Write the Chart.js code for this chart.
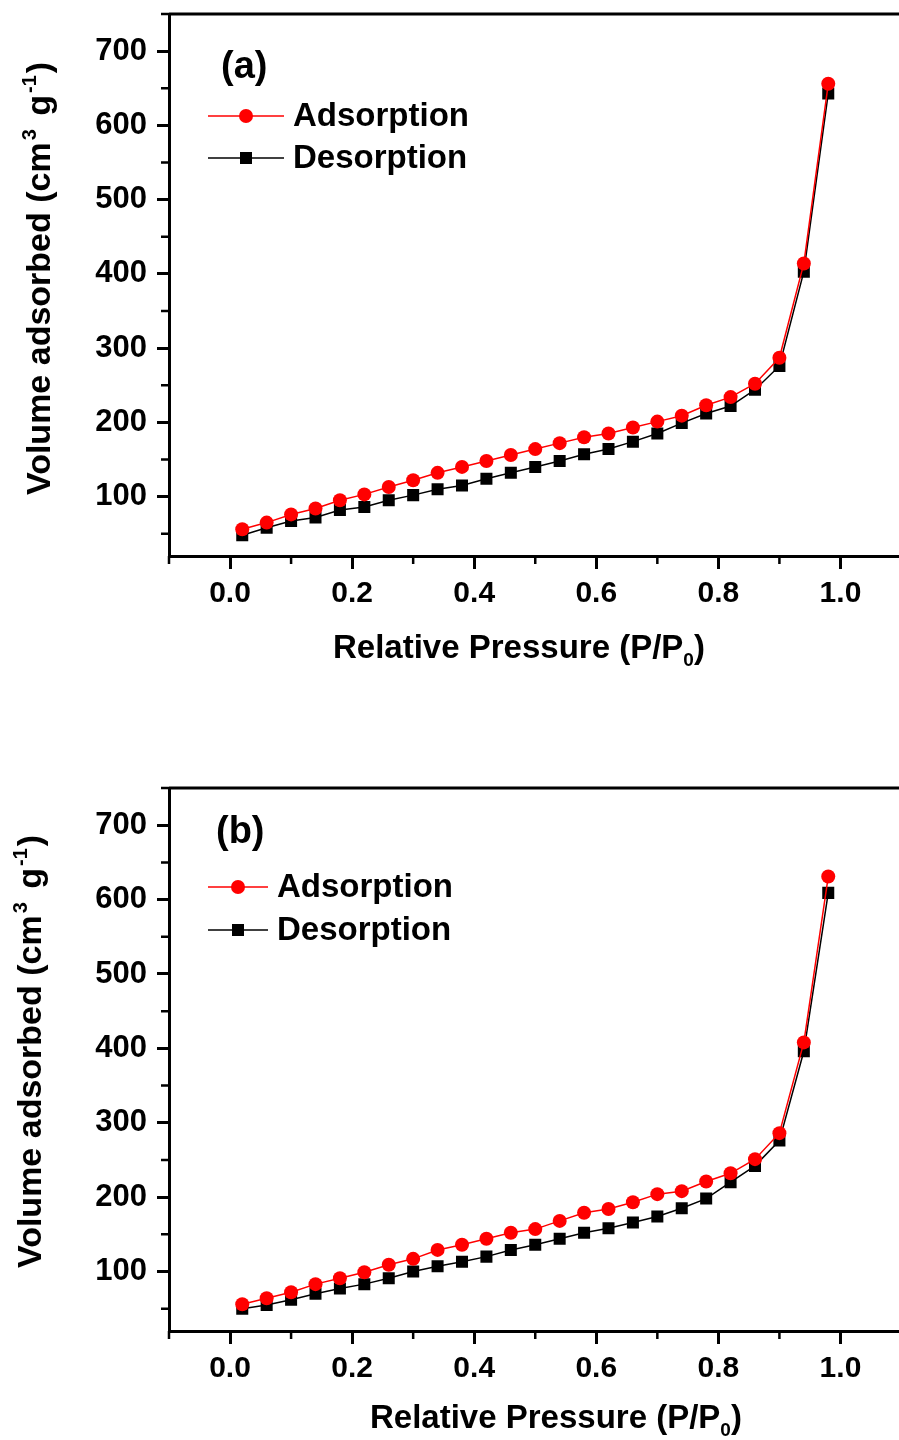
<!DOCTYPE html>
<html>
<head>
<meta charset="utf-8">
<script src="https://cdn.jsdelivr.net/npm/chart.js@4.4.0/dist/chart.umd.min.js"></script>
<style>
  html, body { margin: 0; padding: 0; background: #fff; overflow: hidden; }
  #wrap { width: 899px; height: 1440px; overflow: hidden; position: relative; }
  canvas { display: block; }
</style>
</head>
<body>
<div id="wrap">
  <canvas id="chartA" width="910" height="774"></canvas>
  <canvas id="chartB" width="910" height="666"></canvas>
</div>
<script>
var fontFamily = "'Liberation Sans', Arial, sans-serif";

// relative pressure P/P0 of every measured point
var pressure = [0.02, 0.06, 0.10, 0.14, 0.18, 0.22, 0.26, 0.30, 0.34, 0.38, 0.42, 0.46, 0.50,
                0.54, 0.58, 0.62, 0.66, 0.70, 0.74, 0.78, 0.82, 0.86, 0.90, 0.94, 0.98];

// panel (a)
var adsorptionA = [56, 65, 76, 84, 95, 103, 113, 122, 132, 140, 148, 156, 164,
                   172, 180, 185, 193, 201, 209, 223, 234, 252, 287, 414, 656];
var desorptionA = [48, 58, 67, 72, 82, 86, 95, 102, 110, 115, 124, 132, 140,
                   148, 157, 164, 174, 185, 199, 212, 222, 244, 276, 403, 643];

// panel (b)
var adsorptionB = [56, 64, 72, 83, 91, 99, 109, 117, 129, 136, 144, 152, 157,
                   168, 179, 184, 193, 204, 208, 221, 232, 251, 286, 408, 631];
var desorptionB = [50, 55, 62, 70, 77, 83, 91, 100, 107, 113, 120, 129, 136,
                   144, 152, 158, 166, 174, 185, 198, 220, 242, 276, 396, 609];

var xTicks = [0.0, 0.2, 0.4, 0.6, 0.8, 1.0];
var xMinorTicks = [-0.1, 0.1, 0.3, 0.5, 0.7, 0.9, 1.1];
var yTicks = [100, 200, 300, 400, 500, 600, 700];
var yMinorTicks = [50, 150, 250, 350, 450, 550, 650, 750];

function toPoints(values) {
    return pressure.map(function (p, i) { return { x: p, y: values[i] }; });
}

function drawRich(ctx, parts, x, y, angle) {
    ctx.save();
    ctx.translate(x, y);
    ctx.rotate(angle);
    ctx.textAlign = 'left';
    ctx.textBaseline = 'alphabetic';
    ctx.fillStyle = '#000';
    var cx = 0;
    parts.forEach(function (p) {
        ctx.font = 'bold ' + p.size + 'px ' + fontFamily;
        ctx.fillText(p.text, cx, -(p.rise || 0));
        cx += ctx.measureText(p.text).width + (p.gap || 0);
    });
    ctx.restore();
}

// frame, minor ticks, panel tag, legend and axis titles
var panelDecor = {
    id: 'panelDecor',
    afterDraw: function (chart, args, opts) {
        var ctx = chart.ctx, area = chart.chartArea;
        var xs = chart.scales.x, ys = chart.scales.y;
        ctx.save();
        ctx.strokeStyle = '#000';
        ctx.lineWidth = 3;
        ctx.beginPath();
        ctx.moveTo(area.left, area.top);
        ctx.lineTo(area.right, area.top);
        ctx.stroke();

        ctx.lineWidth = 2.5;
        ctx.beginPath();
        yMinorTicks.forEach(function (v) {
            var py = ys.getPixelForValue(v);
            ctx.moveTo(area.left, py);
            ctx.lineTo(area.left - 8, py);
        });
        xMinorTicks.forEach(function (v) {
            var px = xs.getPixelForValue(v);
            ctx.moveTo(px, area.bottom);
            ctx.lineTo(px, area.bottom + 8);
        });
        ctx.stroke();

        // panel tag
        ctx.fillStyle = '#000';
        ctx.font = 'bold 38px ' + fontFamily;
        ctx.textAlign = 'left';
        ctx.textBaseline = 'middle';
        ctx.fillText(opts.tag, opts.tagX, opts.tagY);

        // legend
        chart.data.datasets.forEach(function (ds, i) {
            var y = opts.legendY + i * opts.legendGap;
            var mx = opts.legendX + opts.legendLen / 2;
            ctx.strokeStyle = ds.borderColor;
            ctx.lineWidth = 1.5;
            ctx.beginPath();
            ctx.moveTo(opts.legendX, y);
            ctx.lineTo(opts.legendX + opts.legendLen, y);
            ctx.stroke();
            ctx.fillStyle = ds.backgroundColor;
            ctx.beginPath();
            if (ds.pointStyle === 'rect') {
                var s = ds.pointRadius * Math.SQRT1_2;
                ctx.rect(mx - s, y - s, 2 * s, 2 * s);
            } else {
                ctx.arc(mx, y, ds.pointRadius, 0, Math.PI * 2);
            }
            ctx.fill();
            ctx.fillStyle = '#000';
            ctx.font = 'bold 33px ' + fontFamily;
            ctx.textBaseline = 'middle';
            ctx.fillText(ds.label, opts.legendX + opts.legendLen + 9, y + 1);
        });
        ctx.restore();

        drawRich(ctx, [
            { text: 'Relative Pressure (P/P', size: 33 },
            { text: '0', size: 19, rise: -8 },
            { text: ')', size: 33 }
        ], opts.xTitleX, opts.xTitleY, 0);

        drawRich(ctx, [
            { text: 'Volume adsorbed (cm', size: 34, gap: 2 },
            { text: '3', size: 20, rise: 14, gap: 4 },
            { text: ' g', size: 34, gap: 2 },
            { text: '-1', size: 20, rise: 14, gap: 2 },
            { text: ')', size: 34 }
        ], opts.yTitleX, opts.yTitleY, -Math.PI / 2);
    }
};

function makeChart(id, adsorption, desorption, panel) {
    return new Chart(document.getElementById(id), {
        type: 'scatter',
        data: {
            datasets: [
                {
                    label: 'Adsorption',
                    data: toPoints(adsorption),
                    showLine: true,
                    borderColor: '#ff0000',
                    backgroundColor: '#ff0000',
                    borderWidth: 1.5,
                    pointStyle: 'circle',
                    pointRadius: 7,
                    pointBorderWidth: 0
                },
                {
                    label: 'Desorption',
                    data: toPoints(desorption),
                    showLine: true,
                    borderColor: '#000000',
                    backgroundColor: '#000000',
                    borderWidth: 1.5,
                    pointStyle: 'rect',
                    pointRadius: 8.5,
                    pointBorderWidth: 0
                }
            ]
        },
        options: {
            responsive: false,
            animation: false,
            events: [],
            layout: { padding: { top: 14, left: 0, right: 0, bottom: 0 } },
            plugins: {
                legend: { display: false },
                tooltip: { enabled: false },
                panelDecor: panel
            },
            scales: {
                x: {
                    type: 'linear',
                    min: -0.1,
                    max: 1.1,
                    afterBuildTicks: function (s) { s.ticks = xTicks.map(function (v) { return { value: v }; }); },
                    afterFit: function (s) {
                        s.height = panel.xAxisHeight;
                        s.paddingLeft = 0;
                        s.paddingRight = 0;
                    },
                    ticks: {
                        callback: function (v) { return v.toFixed(1); },
                        font: { family: fontFamily, size: 30, weight: 'bold' },
                        color: '#000',
                        padding: 7,
                        maxRotation: 0,
                        autoSkip: false
                    },
                    grid: { drawOnChartArea: false, tickLength: 13, tickWidth: 3, tickColor: '#000' },
                    border: { display: true, color: '#000', width: 3 }
                },
                y: {
                    type: 'linear',
                    min: 20,
                    max: 750,
                    afterBuildTicks: function (s) { s.ticks = yTicks.map(function (v) { return { value: v }; }); },
                    afterFit: function (s) {
                        s.width = 169;
                        s.paddingTop = 0;
                        s.paddingBottom = 0;
                    },
                    ticks: {
                        font: { family: fontFamily, size: 31, weight: 'bold' },
                        color: '#000',
                        padding: 10
                    },
                    grid: { drawOnChartArea: false, tickLength: 12, tickWidth: 3, tickColor: '#000' },
                    border: { display: true, color: '#000', width: 3 }
                }
            }
        },
        plugins: [panelDecor]
    });
}

makeChart('chartA', adsorptionA, desorptionA, {
    tag: '(a)', tagX: 221, tagY: 68,
    legendX: 208, legendLen: 76, legendY: 116, legendGap: 42,
    xTitleX: 333, xTitleY: 658, yTitleX: 50, yTitleY: 495,
    xAxisHeight: 218
});

makeChart('chartB', adsorptionB, desorptionB, {
    tag: '(b)', tagX: 216, tagY: 59,
    legendX: 208, legendLen: 60, legendY: 113, legendGap: 43,
    xTitleX: 370, xTitleY: 654, yTitleX: 41, yTitleY: 494,
    xAxisHeight: 109
});
</script>
</body>
</html>
